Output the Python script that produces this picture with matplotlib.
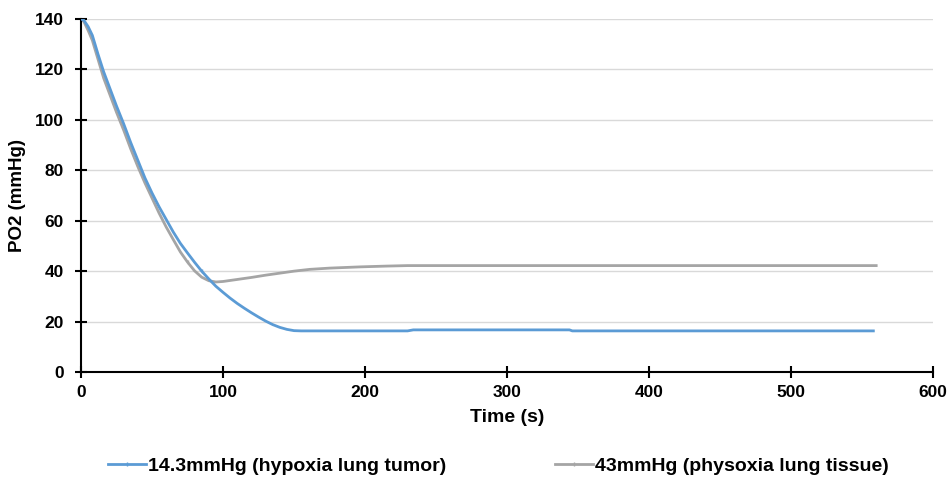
import numpy as np
import matplotlib.pyplot as plt

# PO2 over time, read at uneven time steps
t_tumor = [0, 2, 5, 8, 12, 16, 20, 25, 30, 35, 40, 45, 50, 55, 60, 65, 70, 75,
           80, 85, 90, 95, 100, 105, 110, 115, 120, 125, 130, 135, 140, 145,
           150, 155, 230, 234, 344, 346, 558]
po2_tumor = [140, 139.5, 137, 133.5, 126, 119, 113, 105.5, 98.5, 91, 84, 77, 71,
             65.5, 60.5, 55.5, 51, 47.2, 43.5, 40, 36.9, 34, 31.6, 29.3, 27.2,
             25.3, 23.5, 21.8, 20.2, 18.8, 17.7, 16.9, 16.4, 16.3, 16.3, 16.7,
             16.7, 16.3, 16.3]

t_tissue = [0, 2, 5, 8, 12, 16, 20, 25, 30, 35, 40, 45, 50, 55, 60, 65, 70, 75,
            80, 85, 90, 95, 100, 110, 120, 130, 140, 150, 161, 175, 197, 215,
            230, 560]
po2_tissue = [140, 139, 135.5, 131.5, 124, 116.5, 110.5, 103, 96, 88.5, 81.5, 75,
              69, 63, 57.5, 52.5, 47.6, 43.6, 40.1, 37.6, 36.2, 35.7, 35.9, 36.7,
              37.5, 38.4, 39.2, 40, 40.7, 41.2, 41.7, 42, 42.2, 42.2]

labels = ['14.3mmHg (hypoxia lung tumor)', '43mmHg (physoxia lung tissue)']

plt.rcParams['font.family'] = ['Liberation Sans', 'DejaVu Sans']
plt.rcParams['font.weight'] = 'bold'

fig = plt.figure(figsize=(9.53, 4.95), dpi=100)
ax = fig.add_axes([0.085, 0.2485, 0.894, 0.7131])

ax.plot(t_tumor, po2_tumor, color='#5b9bd5', lw=2, marker='|', ms=3,
        markevery=[len(t_tumor) // 2], label=labels[0], zorder=3)
ax.plot(t_tissue, po2_tissue, color='#a5a5a5', lw=2, marker='|', ms=3,
        markevery=[len(t_tissue) // 2], label=labels[1], zorder=2)

ax.set_xlim(0, 600)
ax.set_ylim(0, 140)
ax.set_xticks(np.arange(0, 601, 100))
ax.set_yticks(np.arange(0, 141, 20))
ax.yaxis.grid(True, color='#d9d9d9', lw=1)
ax.set_axisbelow(True)

for s in ['top', 'right']:
    ax.spines[s].set_visible(False)
for s in ['left', 'bottom']:
    ax.spines[s].set_linewidth(1.5)
ax.tick_params(direction='inout', length=9, width=1.5, labelsize=12.5)
ax.tick_params(axis='x', pad=5)
ax.tick_params(axis='y', pad=8)

ax.set_xlabel('Time (s)', fontsize=14, fontweight='bold', labelpad=6)
ax.set_ylabel('PO2 (mmHg)', fontsize=13.5, fontweight='bold', labelpad=6)

fig.legend(loc='center', bbox_to_anchor=(0.523, 0.0586), ncol=2, frameon=False,
           handlelength=1.95, handletextpad=0.1, columnspacing=5.6,
           prop={'weight': 'bold', 'size': 14})

fig.savefig('out.png', dpi=100)
